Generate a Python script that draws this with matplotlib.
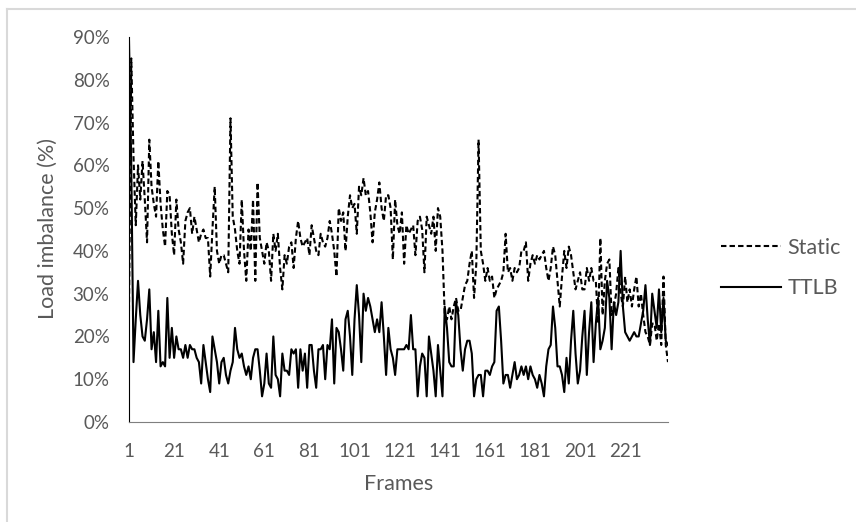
import matplotlib.pyplot as plt
from matplotlib.lines import Line2D
from matplotlib.ticker import PercentFormatter

# load imbalance per frame, in percent
static = [
    26, 85, 62, 46, 60, 52, 61, 52, 42, 66,
    55, 51, 48, 61, 51, 45, 41, 54, 53, 44,
    39, 52, 45, 42, 37, 47, 49, 50, 44, 48,
    45, 42, 44, 45, 43, 43, 34, 45, 55, 40,
    37, 39, 39, 37, 35, 71, 48, 45, 40, 37,
    52, 40, 33, 45, 40, 52, 33, 56, 43, 40,
    37, 42, 40, 33, 44, 40, 44, 36, 31, 39,
    37, 41, 42, 36, 43, 47, 43, 41, 42, 43,
    39, 46, 43, 40, 39, 44, 42, 41, 43, 47,
    44, 40, 34, 50, 47, 49, 40, 48, 53, 50,
    51, 44, 55, 53, 57, 53, 54, 49, 42, 49,
    52, 56, 50, 47, 53, 53, 50, 38, 52, 46,
    44, 49, 37, 46, 44, 45, 46, 39, 47, 48,
    45, 35, 48, 46, 44, 48, 40, 50, 48, 40,
    25, 24, 27, 24, 27, 29, 26, 26, 29, 32,
    33, 37, 40, 29, 37, 66, 40, 37, 33, 36,
    33, 34, 29, 31, 32, 33, 35, 44, 35, 36,
    33, 36, 35, 36, 40, 40, 42, 33, 37, 39,
    37, 39, 38, 39, 40, 36, 33, 36, 41, 39,
    33, 27, 34, 40, 36, 41, 39, 35, 31, 33,
    35, 31, 31, 36, 33, 36, 33, 33, 23, 43,
    25, 33, 37, 38, 25, 27, 30, 36, 30, 27,
    34, 28, 31, 27, 31, 34, 27, 30, 25, 21,
    20, 18, 23, 23, 19, 23, 18, 34, 18, 14,
]
ttlb = [
    89, 60, 14, 24, 33, 25, 20, 19, 24, 31,
    17, 21, 14, 26, 13, 14, 13, 29, 15, 22,
    15, 20, 17, 17, 15, 18, 15, 18, 17, 17,
    15, 14, 9, 18, 14, 10, 7, 20, 17, 14,
    9, 14, 15, 11, 9, 12, 14, 22, 17, 15,
    16, 13, 11, 13, 10, 15, 17, 17, 12, 6,
    9, 16, 9, 8, 20, 11, 10, 6, 16, 12,
    12, 11, 17, 16, 17, 8, 17, 12, 16, 8,
    18, 18, 12, 8, 17, 17, 18, 10, 18, 17,
    24, 9, 22, 21, 17, 12, 24, 26, 20, 11,
    24, 32, 25, 14, 30, 26, 29, 27, 24, 21,
    24, 21, 28, 20, 11, 22, 17, 15, 11, 17,
    17, 17, 17, 18, 17, 25, 17, 17, 6, 13,
    16, 15, 6, 20, 16, 12, 6, 18, 12, 6,
    27, 22, 14, 13, 13, 28, 25, 17, 12, 17,
    19, 19, 16, 6, 10, 11, 11, 6, 12, 12,
    11, 13, 14, 26, 27, 19, 9, 11, 11, 8,
    11, 14, 10, 11, 13, 11, 13, 10, 13, 11,
    10, 8, 11, 9, 6, 13, 17, 18, 27, 22,
    13, 13, 11, 7, 15, 9, 19, 26, 16, 9,
    12, 20, 26, 11, 21, 28, 14, 23, 29, 17,
    19, 22, 33, 29, 17, 28, 25, 28, 40, 27,
    21, 20, 19, 20, 21, 20, 20, 23, 26, 32,
    24, 18, 30, 26, 22, 31, 21, 29, 19, 18,
]
frames = list(range(1, len(static) + 1))
xticks = list(range(1, 222, 20))
yticks = list(range(0, 91, 10))

grey = '#595959'
plt.rcParams['font.family'] = ['Lato', 'DejaVu Sans']

W, H = 856, 522
fig = plt.figure(figsize=(W / 100, H / 100), dpi=100)
# plot area: x 129..668, y 37..422 in pixels
ax = fig.add_axes([129 / W, 1 - 422 / H, 539 / W, 385 / H])

ax.plot(frames, static, color='black', lw=1.5, ls=(0, (2.6, 1.5)), label='Static')
ax.plot(frames, ttlb, color='black', lw=1.5, label='TTLB')

ax.set_xlim(1, len(frames))
ax.set_ylim(0, 90)
ax.set_xticks(xticks)
ax.set_yticks(yticks)
ax.yaxis.set_major_formatter(PercentFormatter(decimals=0))
ax.tick_params(length=0, labelsize=13.5, labelcolor=grey)
ax.tick_params(axis='y', pad=14)
ax.tick_params(axis='x', pad=15)

for side in ['top', 'right']:
    ax.spines[side].set_visible(False)
ax.spines['left'].set_color('black')
ax.spines['bottom'].set_color('#7f7f7f')

fig.text(399 / W, 1 - 484 / H, 'Frames', fontsize=15.5, color=grey,
         ha='center', va='center')
fig.text(48 / W, 1 - 229 / H, 'Load imbalance (%)', fontsize=15.5, color=grey,
         ha='center', va='center', rotation=90)

fig.legend(loc='center left', bbox_to_anchor=(721 / W, 1 - 268 / H),
           frameon=False, fontsize=15.5, borderpad=0, borderaxespad=0,
           handlelength=2.8, handletextpad=0.28, labelspacing=0.95,
           labelcolor=grey)

# light chart-area border at top and left
fig.add_artist(Line2D([7 / W, 1], [1 - 9 / H, 1 - 9 / H], color='#d9d9d9', lw=1.5))
fig.add_artist(Line2D([7 / W, 7 / W], [0, 1 - 9 / H], color='#d9d9d9', lw=1.5))

fig.savefig('out.png', dpi=100)
